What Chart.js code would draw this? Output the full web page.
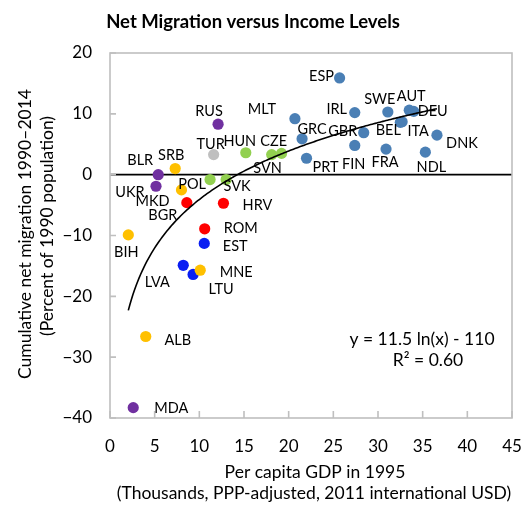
<!DOCTYPE html>
<html><head><meta charset="utf-8">
<script src="https://cdn.jsdelivr.net/npm/chart.js@4.4.0/dist/chart.umd.min.js"></script>
<style>html,body{margin:0;padding:0;background:#fff;}#wrap{width:523px;height:505px;}</style>
</head><body><div id="wrap"><canvas id="c" width="523" height="505"></canvas></div>
<script>
// ---- data ----
const countries = ['ESP','MLT','GRC','IRL','SWE','AUT','DEU','ITA','BEL','GBR','FIN','FRA','NDL','DNK','PRT',
  'CZE','SVN','HUN','POL','SVK','TUR','RUS','BLR','UKR','MDA','SRB','MKD','BIH','MNE','ALB',
  'BGR','HRV','ROM','EST','LVA','LTU'];
const gdp1995 = [25.7,20.7,21.5,27.4,31.1,33.5,34.0,32.7,32.5,28.4,27.4,30.9,35.3,36.6,22.0,
  18.1,19.2,15.2,11.2,13.0,11.6,12.1,5.4,5.15,2.6,7.3,8.0,2.05,10.1,4.0,
  8.6,12.7,10.6,10.55,8.2,9.3];
const netMigration = [15.9,9.2,5.9,10.2,10.3,10.6,10.4,8.7,8.6,6.9,4.8,4.2,3.7,6.5,2.7,
  3.3,3.5,3.6,-0.8,-0.8,3.3,8.3,0.0,-1.9,-38.3,1.0,-2.5,-9.9,-15.7,-26.6,
  -4.6,-4.7,-8.9,-11.3,-14.9,-16.4];
const region = ['adv','adv','adv','adv','adv','adv','adv','adv','adv','adv','adv','adv','adv','adv','adv',
  'ce','ce','ce','ce','ce','tur','cis','cis','cis','cis','wb','wb','wb','wb','wb',
  'see','see','see','balt','balt','balt'];
const xTicks = [0,5,10,15,20,25,30,35,40,45];
const yTicks = [-40,-30,-20,-10,0,10,20];
// trend line shown in the chart: y = 11.5 ln(x) - 110 (x in USD)
const trendSlope = 11.5, trendIntercept = -110, trendFrom = 2.05, trendTo = 36.6;
const equationText = ['y = 11.5 ln(x) - 110', 'R\u00b2 = 0.60'];

// ---- styles (kept apart from data) ----
const regionColors = {adv:'#4A7FB5', ce:'#92D050', tur:'#BFBFBF', cis:'#7030A0', wb:'#FFC000', see:'#FF0000', balt:'#0A1EF2'};
const regionOrder = {wb:1, balt:2, see:3, ce:4, tur:5, cis:6, adv:7};
const labelOffsets = {ESP:[-18,-2],MLT:[-33,-9],GRC:[10,-9],IRL:[-18,-3],SWE:[-8,-13],AUT:[2,-14],DEU:[19,0],
  ITA:[16,10],BEL:[-12,8],GBR:[-21,-1],FIN:[-1,19],FRA:[-1,13],NDL:[6,15],DNK:[25,8],PRT:[19,9],
  CZE:[2,-13],SVN:[-14,15],HUN:[-6,-11],POL:[-18,5],SVK:[11,7],TUR:[-3,-10],RUS:[-9,-13],BLR:[-18,-14],
  UKR:[-26,6],MDA:[38,1],SRB:[-4,-13],MKD:[-29,11],BIH:[-2,17],MNE:[36,2],ALB:[32,4],
  BGR:[-24,13],HRV:[34,2],ROM:[36,0],EST:[31,3],LVA:[-26,17],LTU:[28,15]};
const FONT = 'Lato';

// ---- build datasets ----
const datasets = [];
const trendPts = [];
for (let k = 0; k <= 200; k++) {
  const x = trendFrom + (trendTo - trendFrom) * k / 200;
  trendPts.push({x: x, y: trendSlope * Math.log(x * 1000) + trendIntercept});
}
datasets.push({type:'line', data: trendPts, borderColor:'#000', borderWidth:1.6, pointRadius:0, fill:false, order:0});
Object.keys(regionColors).forEach(r => {
  const pts = [];
  countries.forEach((c, i) => { if (region[i] === r) pts.push({x: gdp1995[i], y: netMigration[i]}); });
  datasets.push({type:'scatter', data: pts, backgroundColor: regionColors[r], borderWidth:0,
    pointRadius:5.6, pointHoverRadius:5.6, order: regionOrder[r]});
});

const decor = {
  id:'decor',
  beforeDatasetsDraw(chart) {
    const {ctx, chartArea:a, scales:{x, y}} = chart;
    ctx.save();
    const y0 = y.getPixelForValue(0);
    ctx.strokeStyle = '#000'; ctx.lineWidth = 1.6;
    ctx.beginPath(); ctx.moveTo(a.left, y0); ctx.lineTo(a.right, y0); ctx.stroke();
    ctx.strokeStyle = '#BFBFBF'; ctx.lineWidth = 1.6;
    ctx.strokeRect(a.left, a.top, a.right - a.left, a.bottom - a.top);
    ctx.beginPath();
    yTicks.forEach(v => { const p = y.getPixelForValue(v); ctx.moveTo(a.left, p); ctx.lineTo(a.left + 6, p); });
    xTicks.forEach(v => { const p = x.getPixelForValue(v); ctx.moveTo(p, a.bottom); ctx.lineTo(p, a.bottom - 7); });
    ctx.stroke();
    ctx.restore();
  },
  afterDatasetsDraw(chart) {
    const {ctx, scales:{x, y}} = chart;
    ctx.save();
    ctx.fillStyle = '#000';
    ctx.font = '14.5px ' + FONT;
    ctx.textAlign = 'center'; ctx.textBaseline = 'middle';
    countries.forEach((c, i) => {
      const o = labelOffsets[c];
      ctx.fillText(c, x.getPixelForValue(gdp1995[i]) + o[0], y.getPixelForValue(netMigration[i]) + o[1]);
    });
    ctx.font = '17.5px ' + FONT;
    ctx.fillText(equationText[0], 422, 339);
    ctx.fillText(equationText[1], 428, 360);
    ctx.font = 'bold 18.5px ' + FONT;
    ctx.fillText('Net Migration versus Income Levels', 253, 22);
    ctx.font = '17.5px ' + FONT;
    ctx.fillText('Per capita GDP in 1995', 315, 472);
    ctx.fillText('(Thousands, PPP-adjusted, 2011 international USD)', 314, 493);
    ctx.save();
    ctx.translate(25, 234); ctx.rotate(-Math.PI / 2);
    ctx.fillText('Cumulative net migration 1990\u20132014', 0, 0);
    ctx.restore();
    ctx.save();
    ctx.translate(47, 226); ctx.rotate(-Math.PI / 2);
    ctx.fillText('(Percent of 1990 population)', 0, 0);
    ctx.restore();
    ctx.restore();
  }
};

new Chart(document.getElementById('c'), {
  data: {datasets},
  options: {
    responsive:false, animation:false, devicePixelRatio:1,
    layout:{padding:{top:53, right:11, left:0, bottom:0}},
    plugins:{legend:{display:false}, tooltip:{enabled:false}, title:{display:false}},
    events: [],
    scales:{
      x:{type:'linear', min:0, max:45, afterBuildTicks(s){ s.ticks = xTicks.map(v => ({value:v})); },
        afterFit(s){ s.height = 87; s.paddingLeft = 0; s.paddingRight = 0; },
        grid:{display:false, drawTicks:false}, border:{display:false},
        ticks:{padding:18, color:'#000', font:{family:FONT, size:17}, maxRotation:0, autoSkip:false}},
      y:{type:'linear', min:-40, max:20, afterBuildTicks(s){ s.ticks = yTicks.map(v => ({value:v})); },
        afterFit(s){ s.width = 110; s.paddingTop = 0; s.paddingBottom = 0; },
        grid:{display:false, drawTicks:false}, border:{display:false},
        ticks:{padding:18, color:'#000', font:{family:FONT, size:17},
          callback:(v) => (v < 0 ? '\u2212' + Math.abs(v) : String(v))}}
    }
  },
  plugins:[decor]
});
</script></body></html>
